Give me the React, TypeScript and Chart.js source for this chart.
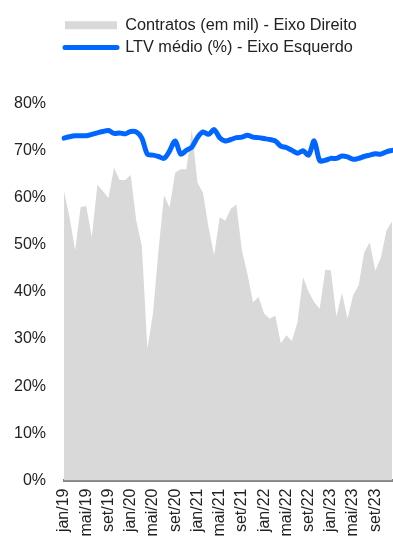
import React, { useEffect, useRef } from "react";
import { Chart, registerables } from "chart.js";

Chart.register(...registerables);

const MONTHS = ["jan", "fev", "mar", "abr", "mai", "jun", "jul", "ago", "set", "out", "nov", "dez"];
const YEARS = ["19", "20", "21", "22", "23"];
const categories: string[] = YEARS.flatMap((y) => MONTHS.map((m) => `${m}/${y}`));

const ltvMedio = [
  72.6, 72.9, 73.1, 73.1, 73.1, 73.4, 73.7, 74.0, 74.2, 73.6,
  73.7, 73.5, 74.0, 73.9, 72.6, 69.2, 69.0, 68.7, 68.3, 69.9,
  72.0, 69.2, 70.0, 70.7, 72.7, 73.9, 73.4, 74.4, 72.7, 72.0,
  72.3, 72.7, 72.8, 73.2, 72.8, 72.7, 72.5, 72.3, 72.0, 70.9,
  70.6, 70.0, 69.4, 69.9, 69.0, 72.0, 67.8, 67.9, 68.3, 68.3,
  68.8, 68.6, 68.1, 68.3, 68.7, 69.0, 69.3, 69.2, 69.7, 70.0,
];

const contratos = [
  61.4, 55.8, 48.8, 58.0, 58.2, 51.6, 62.7, 61.4, 59.9, 66.3,
  63.7, 63.7, 64.8, 55.1, 49.8, 28.0, 35.4, 48.8, 60.5, 57.9,
  65.3, 66.0, 66.0, 74.4, 63.2, 61.0, 53.7, 47.7, 55.8, 55.1,
  57.6, 58.5, 48.8, 43.8, 37.8, 38.9, 35.4, 34.3, 35.0, 29.1,
  30.8, 29.6, 33.6, 43.1, 40.0, 37.8, 36.4, 44.7, 44.6, 34.7,
  39.8, 34.3, 39.3, 41.4, 48.4, 50.5, 44.5, 47.3, 53.0, 54.9,
];

const legendContratos = "Contratos (em mil) - Eixo Direito";
const legendLtv = "LTV médio (%) - Eixo Esquerdo";

const W = 393;
const H = 538;
const FONT = "'Liberation Sans', Arial, Helvetica, sans-serif";
const BLUE = "#0066ff";
const GRAY = "#d9d9d9";
const TEXT = "#222222";

export default function App() {
  const ref = useRef<HTMLCanvasElement | null>(null);

  useEffect(() => {
    if (!ref.current) return;
    const legendPos = {
      id: "legendPos",
      afterLayout(chart: any) {
        if (chart.legend) {
          chart.legend.left = 59;
          chart.legend.top = 11;
        }
      },
    };
    const chart = new Chart(ref.current, {
      type: "line",
      data: {
        labels: categories,
        datasets: [
          {
            label: legendLtv,
            data: ltvMedio,
            yAxisID: "y",
            borderColor: BLUE,
            backgroundColor: BLUE,
            borderWidth: 5,
            pointRadius: 0,
            tension: 0.3,
            borderCapStyle: "round",
            borderJoinStyle: "round",
            fill: false,
            order: 0,
          },
          {
            label: legendContratos,
            data: contratos,
            yAxisID: "y1",
            borderColor: GRAY,
            backgroundColor: GRAY,
            borderWidth: 0,
            pointRadius: 0,
            tension: 0,
            fill: "origin",
            order: 1,
          },
        ],
      },
      options: {
        responsive: false,
        animation: false,
        layout: { padding: { top: 48.6, right: 1, left: 0, bottom: 0 } },
        plugins: {
          tooltip: { enabled: false },
          legend: {
            display: true,
            position: "top",
            align: "start",
            fullSize: false,
            labels: {
              usePointStyle: true,
              pointStyleWidth: 52,
              boxHeight: 8,
              padding: 6,
              color: TEXT,
              font: { family: FONT, size: 16.3 },
              generateLabels: () => [
                {
                  text: legendContratos,
                  fillStyle: GRAY,
                  strokeStyle: GRAY,
                  lineWidth: 0,
                  pointStyle: "rect",
                  datasetIndex: 1,
                  fontColor: TEXT,
                } as any,
                {
                  text: legendLtv,
                  fillStyle: BLUE,
                  strokeStyle: BLUE,
                  lineWidth: 5,
                  lineCap: "round",
                  pointStyle: "line",
                  datasetIndex: 0,
                  fontColor: TEXT,
                } as any,
              ],
            },
          },
        },
        scales: {
          x: {
            type: "category",
            grid: { display: false, drawTicks: false },
            border: { display: true, color: "#858585", width: 3 },
            ticks: {
              autoSkip: false,
              maxRotation: 90,
              minRotation: 90,
              padding: 8,
              color: TEXT,
              font: { family: FONT, size: 16 },
              callback: (_v: any, i: number) => (i % 4 === 0 ? categories[i] : ""),
            },
            afterFit: (scale: any) => {
              scale.height = H - 480.5;
              scale.paddingLeft = 0;
              scale.paddingRight = 0;
            },
          },
          y: {
            position: "left",
            min: 0,
            max: 80,
            grid: { display: false, drawTicks: false },
            border: { display: false },
            ticks: {
              stepSize: 10,
              padding: 18,
              color: TEXT,
              font: { family: FONT, size: 16 },
              callback: (v: any) => `${v}%`,
            },
            afterFit: (scale: any) => {
              scale.width = 64;
            },
          },
          y1: {
            position: "right",
            display: false,
            min: 0,
            max: 80,
          },
        },
      },
      plugins: [legendPos],
    });
    return () => chart.destroy();
  }, []);

  return (
    <div style={{ position: "absolute", left: 0, top: 0, width: W, height: H, background: "#fff" }}>
      <canvas ref={ref} width={W} height={H} style={{ display: "block", width: W, height: H }} />
    </div>
  );
}
